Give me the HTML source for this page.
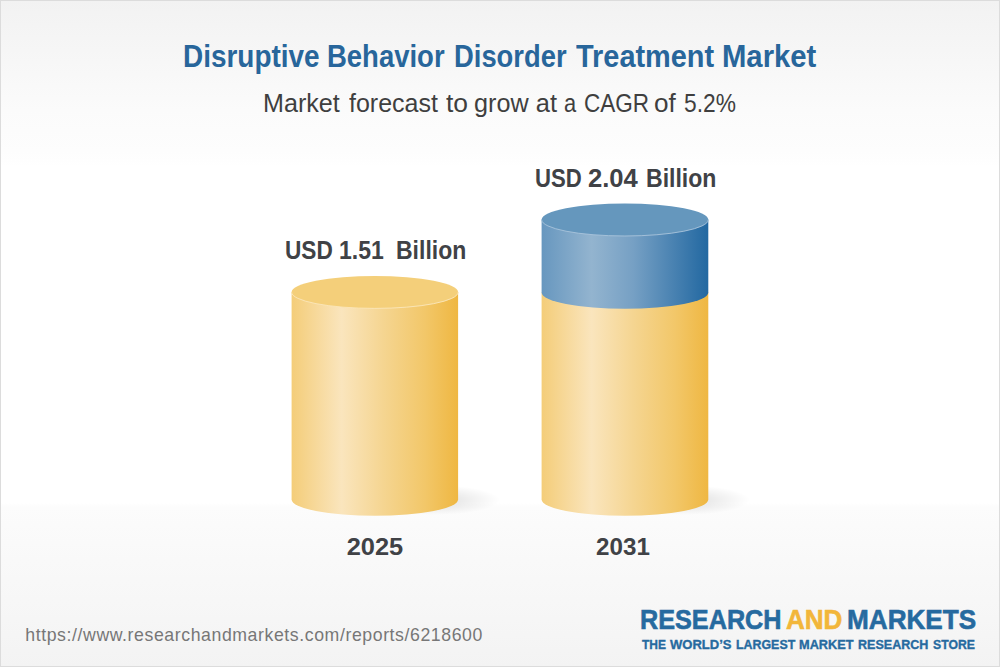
<!DOCTYPE html>
<html><head><meta charset="utf-8">
<style>
html,body{margin:0;padding:0;}
body{width:1000px;height:667px;overflow:hidden;position:relative;font-family:"Liberation Sans",sans-serif;
background:linear-gradient(to bottom,#f2f2f2 0px,#f6f6f6 50px,#fbfbfb 110px,#fdfdfd 152px,#fefefe 160px,#ffffff 166px,#ffffff 503px,#fcfcfc 507px,#f9f9f9 560px,#f6f6f6 620px,#f3f3f3 667px);}
#frame{position:absolute;left:0;top:0;width:998px;height:665px;border:1px solid #dcdcdc;}
.t{position:absolute;white-space:nowrap;line-height:1;}
.c{text-align:center;}
#y1{left:275px;width:200px;top:534.5px;font-size:24.8px;font-weight:bold;color:#404246;transform:scaleX(1.025);transform-origin:100px 0;}
#y2{left:523.3px;width:200px;top:534.5px;font-size:24.8px;font-weight:bold;color:#404246;transform:scaleX(0.975);transform-origin:100px 0;}
#url{left:25.3px;top:627px;font-size:17.7px;color:#777;letter-spacing:0.58px;}
.lg{top:606.4px;font-size:27.5px;font-weight:bold;color:#266a9f;transform-origin:0 0;-webkit-text-stroke:0.6px #266a9f;}
#lw1{left:640.4px;transform:scaleX(0.917);}
#lw2{left:786px;transform:scaleX(0.947);color:#f2b63a;-webkit-text-stroke:0.6px #f2b63a;}
#lw3{left:846.8px;transform:scaleX(0.95);}
.w{position:absolute;white-space:nowrap;line-height:1;transform-origin:0 0;}
.ti{top:40.55px;font-size:31px;font-weight:bold;color:#28669b;}
.su{top:91.2px;font-size:25.4px;color:#3f3f3f;}
.la1{top:237.5px;font-size:25.1px;font-weight:bold;color:#404246;}
.la2{top:165.5px;font-size:25.1px;font-weight:bold;color:#404246;}
.tg{top:638.4px;font-size:13.1px;font-weight:bold;color:#266a9f;-webkit-text-stroke:0.35px #266a9f;}
svg{position:absolute;left:0;top:0;}
</style></head>
<body>
<div id="frame"></div>
<svg width="1000" height="667" viewBox="0 0 1000 667">
<defs>
<linearGradient id="gy" x1="0" x2="1" y1="0" y2="0">
<stop offset="0" stop-color="#f4cd79"/>
<stop offset="0.30" stop-color="#fae5bd"/>
<stop offset="0.55" stop-color="#f5d591"/>
<stop offset="0.80" stop-color="#f2c769"/>
<stop offset="1" stop-color="#efb742"/>
</linearGradient>
<linearGradient id="gb" x1="0" x2="1" y1="0" y2="0">
<stop offset="0" stop-color="#6797bf"/>
<stop offset="0.30" stop-color="#93b4cf"/>
<stop offset="0.55" stop-color="#76a0c4"/>
<stop offset="1" stop-color="#2268a1"/>
</linearGradient>
<radialGradient id="sh" cx="0.5" cy="0.5" r="0.5">
<stop offset="0" stop-color="#000" stop-opacity="0.13"/>
<stop offset="1" stop-color="#000" stop-opacity="0"/>
</radialGradient>
</defs>
<!-- shadows -->
<ellipse cx="435" cy="500" rx="65" ry="15" fill="url(#sh)"/>
<ellipse cx="685" cy="500" rx="65" ry="15" fill="url(#sh)"/>
<!-- cylinder 1 -->
<path d="M291.6 292.2 L291.6 499.5 A83.25 16.3 0 0 0 458.1 499.5 L458.1 292.2 Z" fill="url(#gy)"/>
<ellipse cx="374.85" cy="292.2" rx="83.25" ry="16.2" fill="#f4cf7a"/>
<path d="M291.6 292.2 A83.25 16.2 0 0 0 458.1 292.2" fill="none" stroke="#fbe6bb" stroke-width="0.9"/>
<!-- cylinder 2 yellow -->
<path d="M541.6 292.5 L541.6 499.5 A83.35 16.3 0 0 0 708.3 499.5 L708.3 292.5 Z" fill="url(#gy)"/>
<!-- cylinder 2 blue -->
<path d="M541.6 219.7 L541.6 292.5 A83.35 16.3 0 0 0 708.3 292.5 L708.3 219.7 Z" fill="url(#gb)"/>
<ellipse cx="624.95" cy="219.7" rx="83.35" ry="16.3" fill="#6597bd"/>
<path d="M541.6 219.7 A83.35 16.3 0 0 0 708.3 219.7" fill="none" stroke="#a9c4db" stroke-width="0.9"/>
</svg>
<div class="t c" id="y1">2025</div>
<div class="t c" id="y2">2031</div>
<div class="t" id="url">https://www.researchandmarkets.com/reports/6218600</div>
<div class="t lg" id="lw1">RESEARCH</div>
<div class="t lg" id="lw2">AND</div>
<div class="t lg" id="lw3">MARKETS</div>
<!--WORDS-->
<div class="w ti" style="left:182.8px;transform:scaleX(0.9013)">Disruptive</div>
<div class="w ti" style="left:327.03px;transform:scaleX(0.8863)">Behavior</div>
<div class="w ti" style="left:453.93px;transform:scaleX(0.8833)">Disorder</div>
<div class="w ti" style="left:575.6px;transform:scaleX(0.9324)">Treatment</div>
<div class="w ti" style="left:722.11px;transform:scaleX(0.9439)">Market</div>
<div class="w su" style="left:263.12px;transform:scaleX(0.9895)">Market</div>
<div class="w su" style="left:348.8px;transform:scaleX(0.9846)">forecast</div>
<div class="w su" style="left:446.1px;transform:scaleX(1.04)">to</div>
<div class="w su" style="left:474.21px;transform:scaleX(0.9926)">grow</div>
<div class="w su" style="left:535.8px;transform:scaleX(1.0)">at</div>
<div class="w su" style="left:563.94px;transform:scaleX(0.8615)">a</div>
<div class="w su" style="left:583.61px;transform:scaleX(0.8873)">CAGR</div>
<div class="w su" style="left:654.17px;transform:scaleX(1.0286)">of</div>
<div class="w su" style="left:683.9px;transform:scaleX(0.8964)">5.2%</div>
<div class="w la1" style="left:284.6px;transform:scaleX(0.902)">USD</div>
<div class="w la1" style="left:339.08px;transform:scaleX(0.9167)">1.51</div>
<div class="w la1" style="left:395.58px;transform:scaleX(0.9162)">Billion</div>
<div class="w la2" style="left:534.62px;transform:scaleX(0.8824)">USD</div>
<div class="w la2" style="left:587.98px;transform:scaleX(1.0208)">2.04</div>
<div class="w la2" style="left:645.58px;transform:scaleX(0.9189)">Billion</div>
<div class="w tg" style="left:642.3px;transform:scaleX(0.9154)">THE</div>
<div class="w tg" style="left:669.5px;transform:scaleX(0.9952)">WORLD&#8217;S</div>
<div class="w tg" style="left:735.65px;transform:scaleX(0.9468)">LARGEST</div>
<div class="w tg" style="left:799.23px;transform:scaleX(0.9745)">MARKET</div>
<div class="w tg" style="left:857.84px;transform:scaleX(0.9583)">RESEARCH</div>
<div class="w tg" style="left:932.8px;transform:scaleX(0.9333)">STORE</div>
<!--/WORDS-->
</body></html>
